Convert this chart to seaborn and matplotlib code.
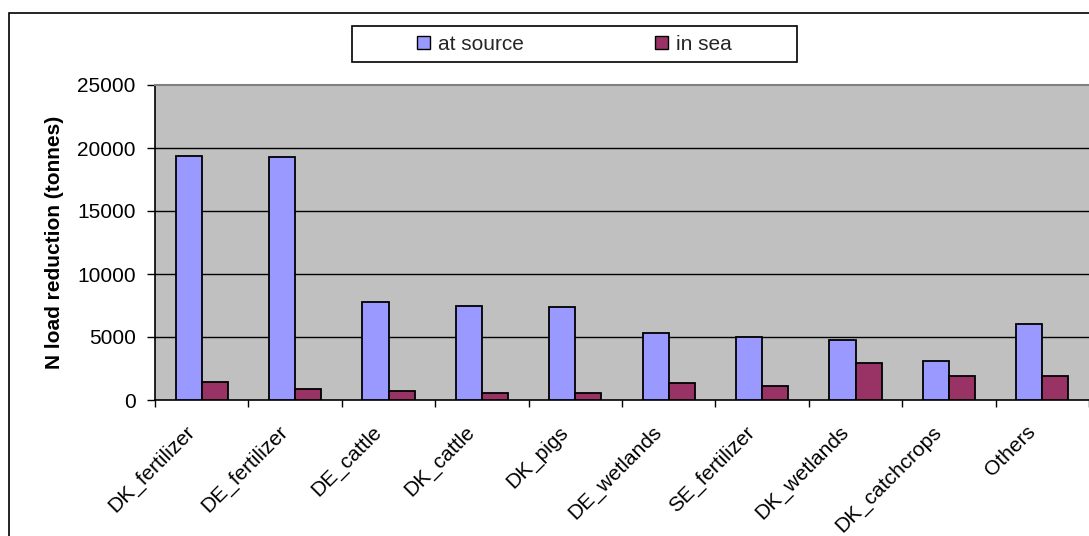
import matplotlib
matplotlib.use("Agg")
import matplotlib.pyplot as plt
from matplotlib.patches import Rectangle, Patch
from matplotlib.transforms import ScaledTranslation
import seaborn as sns
import pandas as pd
import numpy as np

# N load reduction per measure (tonnes)
measures = ["DK_fertilizer", "DE_fertilizer", "DE_cattle", "DK_cattle", "DK_pigs",
            "DE_wetlands", "SE_fertilizer", "DK_wetlands", "DK_catchcrops", "Others"]
at_source = [19400, 19300, 7800, 7500, 7400, 5300, 4970, 4760, 3100, 6050]
in_sea = [1400, 850, 690, 580, 560, 1320, 1080, 2960, 1930, 1930]
series_names = ["at source", "in sea"]
y_ticks = [0, 5000, 10000, 15000, 20000, 25000]

df = pd.DataFrame({
    "measure": measures * 2,
    "value": at_source + in_sea,
    "series": [series_names[0]] * len(measures) + [series_names[1]] * len(measures),
})

sns.set_theme(style="white")
plt.rcParams["font.family"] = ["Liberation Sans", "DejaVu Sans"]

colors = {"at source": "#9999FF", "in sea": "#993366"}
fs = 15

fig = plt.figure(figsize=(10.89, 5.36), dpi=100)
ax = fig.add_axes([155 / 1089, 1 - 400 / 536, 1 - 155 / 1089, (400 - 85) / 536])
ax.set_facecolor("#C0C0C0")

sns.barplot(data=df, x="measure", y="value", hue="series", order=measures,
            hue_order=series_names, palette=colors, width=0.56, saturation=1,
            edgecolor="black", linewidth=1.3, legend=False, ax=ax, zorder=3)

ax.set_xlim(-0.5, len(measures) - 0.5)
ax.set_ylim(0, 25000)
ax.set_yticks(y_ticks)
ax.set_yticklabels([str(v) for v in y_ticks], fontsize=fs, color="black")
for v in y_ticks[1:-1]:
    ax.axhline(v, color="black", linewidth=1.0, zorder=1)

ax.set_xticks(range(len(measures)))
ax.set_xticklabels(measures, rotation=45, ha="right", va="center",
                   rotation_mode="anchor", fontsize=fs, color="black")
ax.set_xticks(np.arange(-0.5, len(measures), 1.0), minor=True)
ax.tick_params(axis="x", which="major", length=0, pad=16)
ax.tick_params(axis="x", which="minor", length=5, width=1, color="black",
               direction="out", bottom=True)
ax.tick_params(axis="y", which="major", length=6, width=1, color="black",
               direction="out", left=True, pad=8)

# nudge the slanted category labels left and down
shift = ScaledTranslation(-10 / 100, -7 / 100, fig.dpi_scale_trans)
for lbl in ax.get_xticklabels():
    lbl.set_transform(lbl.get_transform() + shift)

ax.set_xlabel("")
ax.set_ylabel("N load reduction (tonnes)", fontsize=fs, fontweight="bold",
              color="black", labelpad=9)

for side in ["left", "bottom"]:
    ax.spines[side].set_visible(True)
    ax.spines[side].set_color("black")
    ax.spines[side].set_linewidth(1.2)
ax.spines["top"].set_visible(True)
ax.spines["top"].set_color("#808080")
ax.spines["top"].set_linewidth(1.5)
ax.spines["right"].set_visible(False)

# outer chart frame
fig.patches.append(Rectangle((9 / 1089, -0.05), 1.2, 1 - 13 / 536 + 0.05,
                             transform=fig.transFigure, fill=False,
                             edgecolor="black", linewidth=1.2))

# legend box
fig.patches.append(Rectangle((352 / 1089, 1 - 62 / 536), 445 / 1089, 36 / 536,
                             transform=fig.transFigure, fill=True, facecolor="white",
                             edgecolor="black", linewidth=1.2, zorder=5))
handles = [Patch(facecolor=colors[s], edgecolor="black", linewidth=1) for s in series_names]
leg = fig.legend(handles, series_names, loc="center",
                 bbox_to_anchor=(574.5 / 1089, 1 - 44 / 536), ncol=2, frameon=False,
                 fontsize=fs, handlelength=0.6, handleheight=0.6,
                 handletextpad=0.4, columnspacing=6.3)
leg.set_zorder(6)

fig.savefig("out.png", dpi=100)
